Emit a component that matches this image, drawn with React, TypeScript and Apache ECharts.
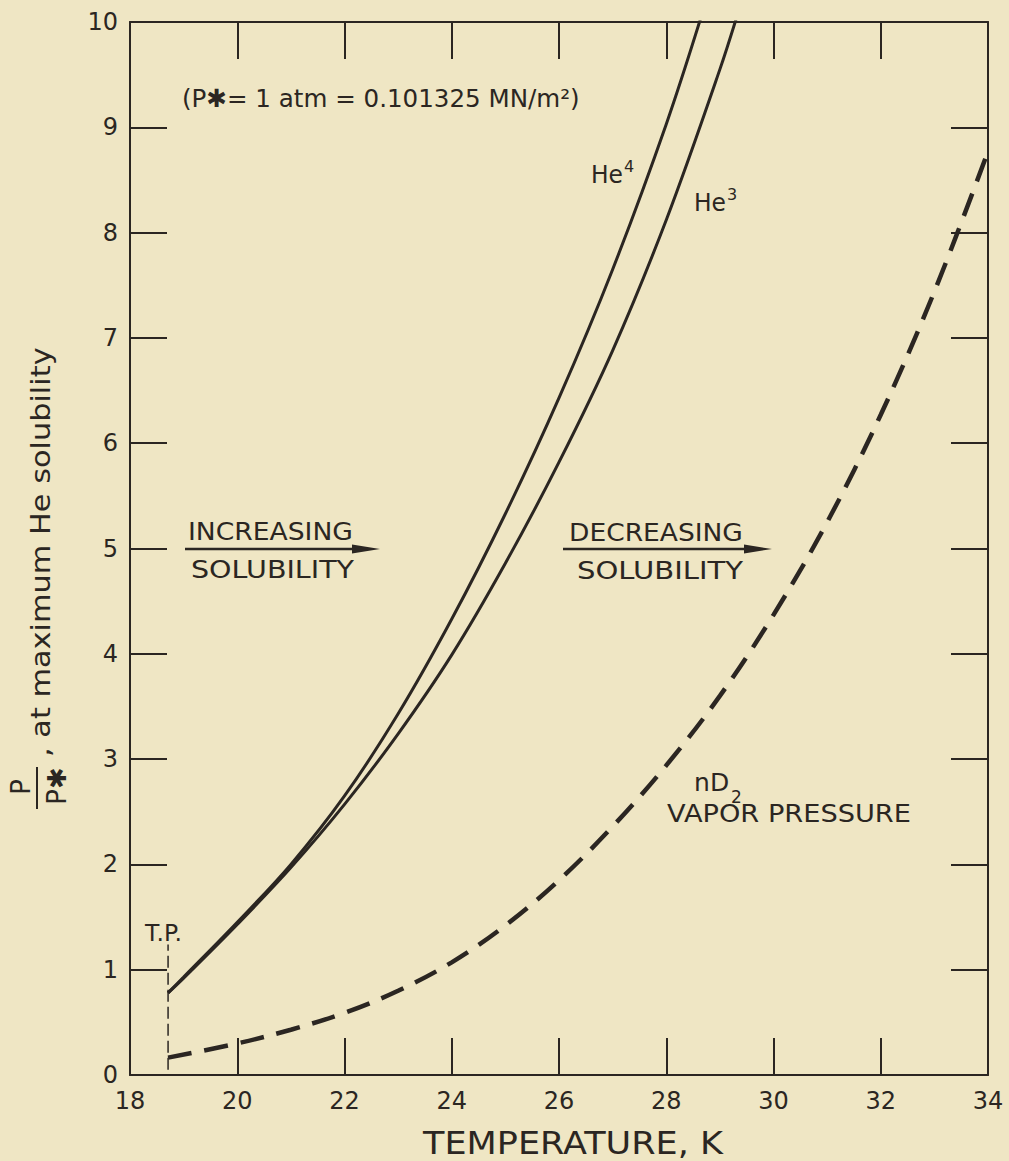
import React, { useEffect, useRef } from "react";
import * as echarts from "echarts";

// Temperature (K) and reduced pressure P/P*
const he4Temp = [18.71, 19, 20, 21, 22, 23, 24, 25, 26, 27, 28, 28.7];
const he4Pressure = [0.78, 0.93, 1.45, 2.0, 2.65, 3.43, 4.33, 5.33, 6.43, 7.65, 9.03, 10.13];

const he3Temp = [18.71, 19, 20, 21, 22, 23, 24, 25, 26, 27, 28, 29, 29.4];
const he3Pressure = [0.78, 0.92, 1.43, 1.97, 2.57, 3.24, 3.99, 4.86, 5.82, 6.88, 8.12, 9.55, 10.19];

const d2Temp = [18.71, 20, 21, 22, 23, 24, 25, 26, 27, 28, 29, 30, 31, 32, 33, 34];
const d2Pressure = [0.165, 0.3, 0.43, 0.59, 0.8, 1.07, 1.42, 1.85, 2.36, 2.94, 3.6, 4.37, 5.25, 6.27, 7.44, 8.77];

// Triple point of normal deuterium and the extent of its marker line
const triplePointTemp = 18.71;
const triplePointSpan = [0.05, 1.24];

// Axis ranges and tick steps
const tempRange = [18, 34];
const tempStep = 2;
const pressureRange = [0, 10];
const pressureStep = 1;

const INK = "#2b2622";
const PAPER = "#efe6c4";
const FAMILY = '"DejaVu Sans", "Liberation Sans", sans-serif';

const pairs = (xs: number[], ys: number[]) => xs.map((x, i) => [x, ys[i]]);

let measureCtx: CanvasRenderingContext2D | null = null;
function measure(text: string, size: number): number {
  if (!measureCtx) measureCtx = document.createElement("canvas").getContext("2d");
  if (!measureCtx) return text.length * size * 0.6;
  measureCtx.font = `${size}px ${FAMILY}`;
  return measureCtx.measureText(text).width;
}

function textStyle(text: string, size: number, align: string) {
  return {
    text,
    fill: INK,
    fontSize: size,
    fontFamily: FAMILY,
    align,
    verticalAlign: "middle",
    textAlign: align,
    textVerticalAlign: "middle",
  };
}

// Horizontal label stretched to span [left, right], centred vertically on cy
function fitText(text: string, size: number, left: number, right: number, cy: number) {
  const w = measure(text, size);
  return {
    type: "text",
    x: left,
    y: cy,
    scaleX: (right - left) / w,
    silent: true,
    style: textStyle(text, size, "left"),
  };
}

// Plain label starting at x (also used for super/subscripts)
function smallText(text: string, size: number, x: number, cy: number) {
  return { type: "text", x, y: cy, silent: true, style: textStyle(text, size, "left") };
}

// Label rotated to read upwards, starting at yBottom and ending at yTop
function fitVertical(text: string, size: number, cx: number, yBottom: number, yTop: number) {
  const w = measure(text, size);
  return {
    type: "text",
    x: cx,
    y: yBottom,
    rotation: Math.PI / 2,
    scaleX: (yBottom - yTop) / w,
    silent: true,
    style: textStyle(text, size, "left"),
  };
}

function centredVertical(text: string, size: number, cx: number, cy: number) {
  return {
    type: "text",
    x: cx,
    y: cy,
    rotation: Math.PI / 2,
    silent: true,
    style: textStyle(text, size, "center"),
  };
}

function arrow(x1: number, x2: number, y: number) {
  return [
    { type: "line", silent: true, shape: { x1, y1: y, x2: x2 - 24, y2: y }, style: { stroke: INK, lineWidth: 2.5 } },
    {
      type: "polygon",
      silent: true,
      shape: { points: [[x2 - 28, y - 4.5], [x2, y], [x2 - 28, y + 4.5]] },
      style: { fill: INK },
    },
  ];
}

function buildOption() {
  const axisLine = { show: true, onZero: false, lineStyle: { color: INK, width: 2 } };
  const axisTick = { show: true, inside: true, length: 37, lineStyle: { color: INK, width: 2 } };
  const tickFont = { color: INK, fontSize: 24, fontFamily: FAMILY };

  const graphic: any[] = [
    fitText("(P\u2731= 1 atm = 0.101325 MN/m\u00b2)", 25, 182, 580, 98),
    fitText("He", 25, 591, 623, 175),
    smallText("4", 16, 624, 166),
    fitText("He", 25, 694, 726, 203),
    smallText("3", 16, 727, 194),
    fitText("INCREASING", 25, 188, 353, 531),
    fitText("SOLUBILITY", 25, 191, 354, 569),
    ...arrow(185, 380, 549),
    fitText("DECREASING", 25, 569, 743, 532),
    fitText("SOLUBILITY", 25, 577, 743, 570),
    ...arrow(563, 772, 549),
    smallText("n", 25, 694, 782),
    smallText("D", 25, 710, 782),
    smallText("2", 17, 731, 797),
    fitText("VAPOR PRESSURE", 25, 667, 911, 813),
    fitText("T.P.", 23, 145, 182, 933),
    fitText("TEMPERATURE, K", 32, 423, 723, 1143),
    // P / P* fraction of the y-axis title
    centredVertical("P", 26, 21, 787),
    { type: "line", silent: true, shape: { x1: 37, y1: 767, x2: 37, y2: 809 }, style: { stroke: INK, lineWidth: 2 } },
    centredVertical("P\u2731", 26, 57, 786),
    fitVertical(", at maximum He solubility", 26, 41, 757, 347),
  ];

  return {
    animation: false,
    backgroundColor: PAPER,
    textStyle: { fontFamily: FAMILY, color: INK },
    grid: { left: 130, right: 21, top: 22, bottom: 86, containLabel: false },
    xAxis: [
      {
        type: "value",
        min: tempRange[0],
        max: tempRange[1],
        interval: tempStep,
        position: "bottom",
        axisLine,
        axisTick,
        splitLine: { show: false },
        axisLabel: { ...tickFont, margin: 14 },
      },
      {
        type: "value",
        min: tempRange[0],
        max: tempRange[1],
        interval: tempStep,
        position: "top",
        axisLine,
        axisTick,
        splitLine: { show: false },
        axisLabel: { show: false },
      },
    ],
    yAxis: [
      {
        type: "value",
        min: pressureRange[0],
        max: pressureRange[1],
        interval: pressureStep,
        position: "left",
        axisLine,
        axisTick,
        splitLine: { show: false },
        axisLabel: { ...tickFont, margin: 12 },
      },
      {
        type: "value",
        min: pressureRange[0],
        max: pressureRange[1],
        interval: pressureStep,
        position: "right",
        axisLine,
        axisTick,
        splitLine: { show: false },
        axisLabel: { show: false },
      },
    ],
    series: [
      {
        name: "He4",
        type: "line",
        data: pairs(he4Temp, he4Pressure),
        smooth: 0.35,
        symbol: "none",
        clip: true,
        lineStyle: { color: INK, width: 3 },
        silent: true,
      },
      {
        name: "He3",
        type: "line",
        data: pairs(he3Temp, he3Pressure),
        smooth: 0.35,
        symbol: "none",
        clip: true,
        lineStyle: { color: INK, width: 3 },
        silent: true,
      },
      {
        name: "nD2 vapor pressure",
        type: "line",
        data: pairs(d2Temp, d2Pressure),
        smooth: 0.35,
        symbol: "none",
        clip: true,
        lineStyle: { color: INK, width: 4.5, type: [24, 13], cap: "butt" },
        silent: true,
      },
      {
        name: "triple point",
        type: "line",
        data: triplePointSpan.map((p) => [triplePointTemp, p]),
        symbol: "none",
        clip: true,
        lineStyle: { color: INK, width: 1.5, type: [12, 5] },
        silent: true,
      },
    ],
    graphic,
  };
}

export default function App() {
  const ref = useRef<HTMLDivElement>(null);
  useEffect(() => {
    document.body.style.margin = "0";
    document.body.style.background = PAPER;
    const chart = echarts.init(ref.current as HTMLDivElement, null, { renderer: "svg" });
    chart.setOption(buildOption() as any);
    return () => chart.dispose();
  }, []);
  return (
    <div
      ref={ref}
      style={{ position: "fixed", left: 0, top: 0, width: 1009, height: 1161 }}
    />
  );
}
